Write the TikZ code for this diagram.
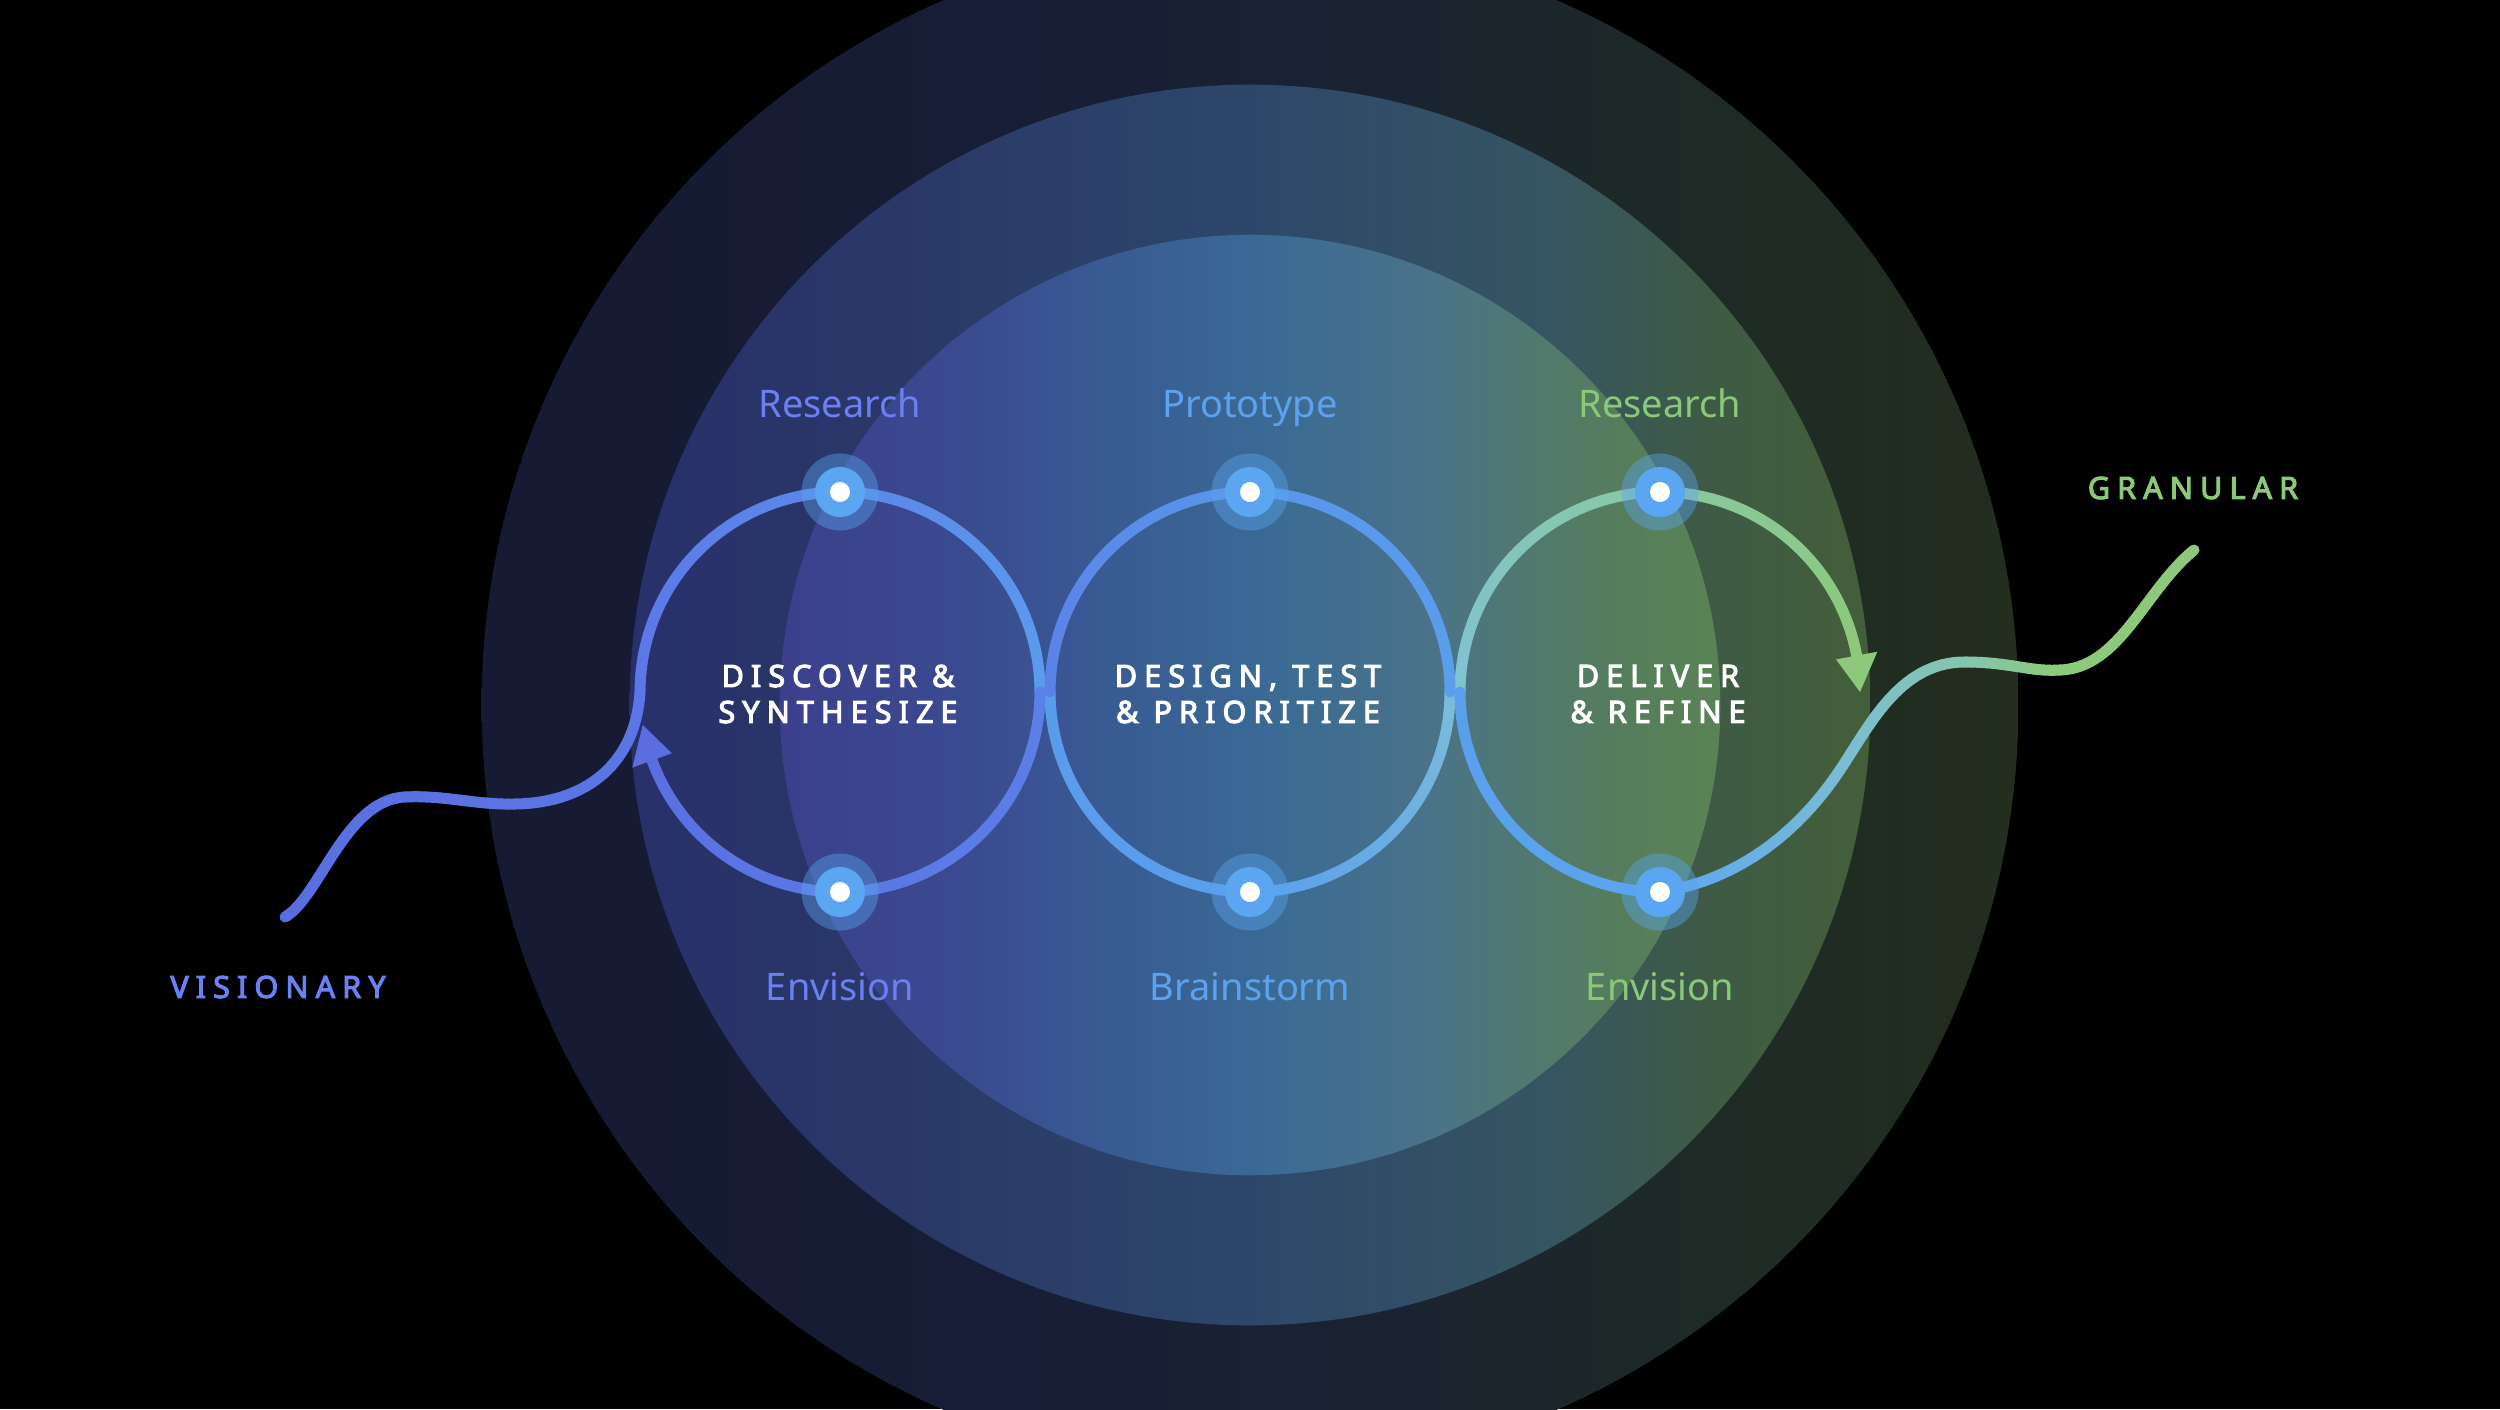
\documentclass[tikz,border=0pt]{standalone}
\usepackage{fontspec}
\setmainfont{Noto Sans}
\newfontfamily\capsfont{Noto Sans}[LetterSpace=23, FakeBold=3.5]
\usetikzlibrary{calc}
% ring colours
\definecolor{oA}{HTML}{161A32}\definecolor{oB}{HTML}{171D36}\definecolor{oC}{HTML}{1A2331}
\definecolor{oD}{HTML}{1E2A26}\definecolor{oE}{HTML}{232E1E}
\definecolor{mA}{HTML}{28306A}\definecolor{mB}{HTML}{2A3868}\definecolor{mC}{HTML}{2D476A}
\definecolor{mD}{HTML}{365562}\definecolor{mE}{HTML}{3E5A46}\definecolor{mF}{HTML}{435F38}
\definecolor{iA}{HTML}{3C3F8C}\definecolor{iB}{HTML}{3A4A90}\definecolor{iC}{HTML}{395A93}
\definecolor{iD}{HTML}{3A6A95}\definecolor{iE}{HTML}{4A7389}\definecolor{iF}{HTML}{50796F}
\definecolor{iG}{HTML}{567D5B}\definecolor{iH}{HTML}{5A8455}
% path colours
\definecolor{A0}{HTML}{5A6DDF}\definecolor{A1}{HTML}{5A71E1}\definecolor{A2}{HTML}{5B73E3}
\definecolor{A3}{HTML}{5B76E5}\definecolor{A4}{HTML}{5B88E9}\definecolor{A5}{HTML}{5A9CEC}
\definecolor{A6}{HTML}{5A9EEC}\definecolor{A7}{HTML}{7CBCDA}\definecolor{A8}{HTML}{80C2D4}
\definecolor{A9}{HTML}{89C8A2}\definecolor{G}{HTML}{8CC97A}
\definecolor{Bt}{HTML}{5B6EE0}\definecolor{B1}{HTML}{5B78E5}\definecolor{B2}{HTML}{5B80E7}
\definecolor{B3}{HTML}{5A95EB}\definecolor{B4}{HTML}{5A9EEC}\definecolor{B5}{HTML}{5CA6EE}
\definecolor{B7}{HTML}{7ABCD6}\definecolor{B8}{HTML}{84C5B0}
\definecolor{dotblue}{HTML}{5AA6F0}
\definecolor{labA}{HTML}{6B80F2}\definecolor{labM}{HTML}{5DA2EE}\definecolor{labG}{HTML}{8BC97A}

\newcommand\Rl{200}
\newcommand\gfill[4]{\shade[left color=#3,right color=#4] ({#1-1},-10) rectangle ({#2+1},1420);}
\newcommand\garc[6]{%
  \foreach \k in {1,...,16}{%
    \pgfmathsetmacro\gA{(#3)+((#4)-(#3))*(\k-1)/16}%
    \pgfmathsetmacro\gB{(#3)+((#4)-(#3))*\k/16}%
    \pgfmathsetmacro\gP{100*(\k-0.5)/16}%
    \draw[loopline, draw=#6!\gP!#5] plot[domain=0:1, samples=4, variable=\t]
      ({#1+\Rl*cos((\gA)+((\gB)-(\gA))*\t)},{#2-\Rl*sin((\gA)+((\gB)-(\gA))*\t)});%
  }}
\newcommand\setbez[8]{\def\bxa{#1}\def\bya{#2}\def\bxb{#3}\def\byb{#4}\def\bxc{#5}\def\byc{#6}\def\bxd{#7}\def\byd{#8}}
\newcommand\gbez[2]{%
  \foreach \k in {1,...,16}{%
    \pgfmathsetmacro\gA{(\k-1)/16}%
    \pgfmathsetmacro\gB{\k/16}%
    \pgfmathsetmacro\gP{100*(\k-0.5)/16}%
    \draw[loopline, draw=#2!\gP!#1] plot[domain=\gA:\gB, samples=5, variable=\t]
      ({(1-\t)^3*\bxa+3*(1-\t)^2*\t*\bxb+3*(1-\t)*\t^2*\bxc+\t^3*\bxd},
       {(1-\t)^3*\bya+3*(1-\t)^2*\t*\byb+3*(1-\t)*\t^2*\byc+\t^3*\byd});%
  }}
\newcommand\dotat[1]{%
  \fill[dotblue, opacity=0.42] (#1) circle[radius=0.385cm];
  \fill[dotblue] (#1) circle[radius=0.25cm];
  \fill[white] (#1) circle[radius=0.1cm];}

\begin{document}
\begin{tikzpicture}[x=0.01cm,y=-0.01cm,
  loopline/.style={line width=0.11cm, line cap=round},
  lab/.style={font=\fontsize{10.8pt}{13pt}\selectfont, anchor=base},
  captext/.style={font=\capsfont\fontsize{8.7pt}{10.24pt}\selectfont, align=center, text=white}]
\useasboundingbox (0,0) rectangle (2500,1409);
\fill[black] (0,0) rectangle (2500,1409);
\begin{scope}
  \clip (0,0) rectangle (2500,1409);
  \begin{scope}
    \clip (1250,705) circle[radius=7.68cm];
    \gfill{470}{1000}{oA}{oB}
    \gfill{1000}{1400}{oB}{oC}
    \gfill{1400}{1700}{oC}{oD}
    \gfill{1700}{2030}{oD}{oE}
  \end{scope}
  \begin{scope}
    \clip (1250,705) circle[radius=6.2cm];
    \gfill{620}{900}{mA}{mB}
    \gfill{900}{1250}{mB}{mC}
    \gfill{1250}{1550}{mC}{mD}
    \gfill{1550}{1700}{mD}{mE}
    \gfill{1700}{1880}{mE}{mF}
  \end{scope}
  \begin{scope}
    \clip (1250,705) circle[radius=4.7cm];
    \gfill{770}{960}{iA}{iB}
    \gfill{960}{1100}{iB}{iC}
    \gfill{1100}{1270}{iC}{iD}
    \gfill{1270}{1430}{iD}{iE}
    \gfill{1430}{1530}{iE}{iF}
    \gfill{1530}{1620}{iF}{iG}
    \gfill{1620}{1730}{iG}{iH}
  \end{scope}
\end{scope}

% path A : visionary squiggle -> loops -> green arrow
\setbez{285}{917}{320}{897}{345}{800}{405}{797}\gbez{A0}{A1}
\setbez{405}{797}{445}{795}{475}{805}{515}{804}\gbez{A1}{A2}
\setbez{515}{804}{590}{803}{636}{760}{640}{692}\gbez{A2}{A3}
\garc{840}{692}{180}{90}{A3}{A4}
\garc{840}{692}{90}{0}{A4}{A5}
\garc{1250}{692}{180}{270}{A5}{A6}
\garc{1250}{692}{270}{360}{A6}{A7}
\garc{1660}{692}{180}{90}{A8}{A9}
\garc{1660}{692}{90}{9.5}{A9}{G}
\fill[G] ({1660+200*cos(0)},{692-200*sin(0)}) -- ({1660+221*cos(10.5)},{692-221*sin(10.5)}) -- ({1660+179*cos(10.5)},{692-179*sin(10.5)}) -- cycle;

% path B : blue arrow <- loops -> granular squiggle
\garc{840}{692}{360}{270}{B2}{B1}
\garc{840}{692}{270}{199}{B1}{Bt}
\fill[Bt] ({840+200*cos(189.5)},{692-200*sin(189.5)}) -- ({840+221*cos(200)},{692-221*sin(200)}) -- ({840+179*cos(200)},{692-179*sin(200)}) -- cycle;
\garc{1250}{692}{180}{90}{B2}{B3}
\garc{1250}{692}{90}{0}{B3}{B4}
\garc{1660}{692}{180}{270}{B4}{B5}
\setbez{1660}{892}{1740}{880}{1800}{830}{1840}{770}\gbez{B5}{B7}
\setbez{1840}{770}{1870}{725}{1900}{662}{1965}{662}\gbez{B7}{B8}
\setbez{1965}{662}{2010}{662}{2030}{672}{2060}{670}\gbez{B8}{G}
\setbez{2060}{670}{2120}{668}{2145}{590}{2194}{550}\gbez{G}{G}

% dots
\coordinate (t1) at (840,492);
\coordinate (t2) at (1250,492);
\coordinate (t3) at (1660,492);
\coordinate (b1) at (840,892);
\coordinate (b2) at (1250,892);
\coordinate (b3) at (1660,892);
\dotat{t1}\dotat{t2}\dotat{t3}\dotat{b1}\dotat{b2}\dotat{b3}

% labels
\node[lab, text=labA] (r1) at (840,417) {Research};
\node[lab, text=labM] (r2) at (1250,417) {Prototype};
\node[lab, text=labG] (r3) at (1660,417) {Research};
\node[lab, text=labA] (e1) at (840,1000) {Envision};
\node[lab, text=labM] (e2) at (1250,1000) {Brainstorm};
\node[lab, text=labG] (e3) at (1660,1000) {Envision};
\node[captext] (c1) at (838,694) {DISCOVER \&\\SYNTHESIZE};
\node[captext] (c2) at (1248,694) {DESIGN, TEST\\\& PRIORITIZE};
\node[captext] (c3) at (1658,694) {DELIVER\\\& REFINE};
\node[captext, text=labA] (vis) at (278,987) {VISIONARY};
\node[captext, text=labG] (gran) at (2193,488) {GRANULAR};
\end{tikzpicture}
\end{document}
